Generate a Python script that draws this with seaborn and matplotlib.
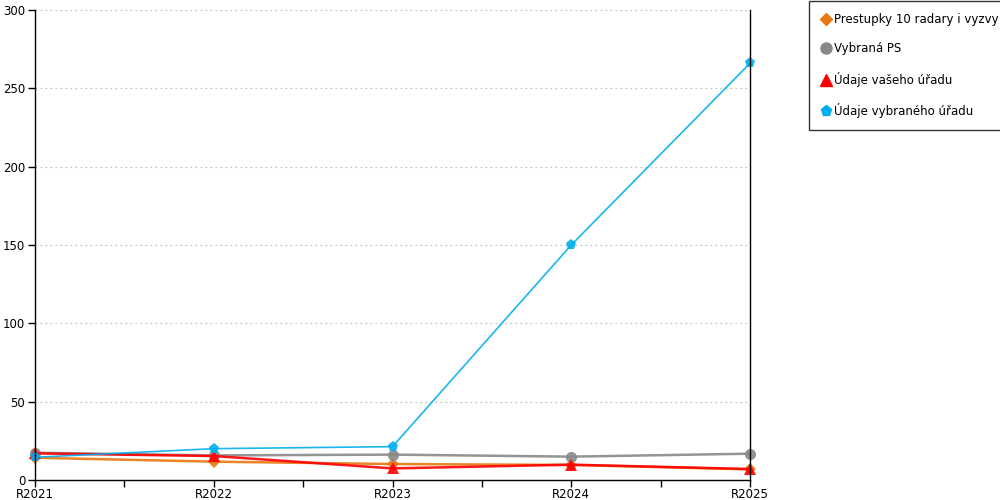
import pandas as pd
import matplotlib.pyplot as plt
import matplotlib.lines as mlines
import seaborn as sns

years = ['R2021', 'R2022', 'R2023', 'R2024', 'R2025']
prestupky = [14.2, 11.7, 10.2, 9.6, 6.8]
vybrana_ps = [17.4, 15.7, 16.2, 14.9, 16.8]
vaseho_uradu = [17.0, 15.3, 7.4, 9.8, 7.0]
vybraneho_uradu = [14.5, 20.0, 21.3, 150.0, 266.0]

names = ['Prestupky 10 radary i vyzvy', 'Vybraná PS', 'Údaje vašeho úřadu', 'Údaje vybraného úřadu']
colors = ['#E8780F', '#888888', '#FF0000', '#00AEEF']
markers = ['D', 'o', '^', 'p']
msizes = [6, 8, 8, 8]
widths = [1.8, 1.8, 1.8, 1.2]

sns.set_theme(style='white')
plt.rcParams['font.family'] = ['DejaVu Sans']
plt.rcParams['text.color'] = 'black'

fig = plt.figure(figsize=(10, 5), dpi=100)
ax = fig.add_axes([0.035, 0.04, 0.715, 0.94])

series = [prestupky, vybrana_ps, vaseho_uradu, vybraneho_uradu]
xs = list(range(len(years)))
for name, vals, c, m, ms, lw in zip(names, series, colors, markers, msizes, widths):
    df = pd.DataFrame({'x': xs, 'y': vals})
    sns.lineplot(data=df, x='x', y='y', ax=ax, color=c, marker=m, markersize=ms,
                 markeredgewidth=0, linewidth=lw, alpha=0.9, clip_on=False)

ax.set_xlim(0, len(years) - 1)
ax.set_ylim(0, 300)
ax.set_xticks(xs)
ax.set_xticklabels(years)
ax.set_xticks([0.5, 1.5, 2.5, 3.5], minor=True)
ax.set_yticks(range(0, 301, 50))
ax.set_xlabel('')
ax.set_ylabel('')
ax.yaxis.grid(True, linestyle=(0, (1.5, 3)), color='#bbbbbb', linewidth=0.8)
ax.set_axisbelow(True)
for s in ['left', 'bottom', 'right']:
    ax.spines[s].set_color('black')
    ax.spines[s].set_linewidth(1)
ax.spines['top'].set_visible(False)
ax.tick_params(axis='both', which='both', direction='out', colors='black', labelsize=8.5,
               length=5, width=1, bottom=True, left=True, pad=1)
ax.tick_params(axis='y', length=5, pad=2)

handles = [mlines.Line2D([], [], color=c, marker=m, linestyle='none', markersize=ms)
           for c, m, ms in zip(colors, markers, [6, 8, 8, 8])]
leg = fig.legend(handles, names, loc='upper left', bbox_to_anchor=(0.809, 0.998),
                 frameon=True, fancybox=False, fontsize=8.5, handletextpad=0.3,
                 labelspacing=1.4, borderpad=1.0, handlelength=0.8, borderaxespad=0)
leg.get_frame().set_edgecolor('black')
leg.get_frame().set_linewidth(1)
for t in leg.get_texts():
    t.set_color('black')

fig.savefig('out.png', dpi=100)
